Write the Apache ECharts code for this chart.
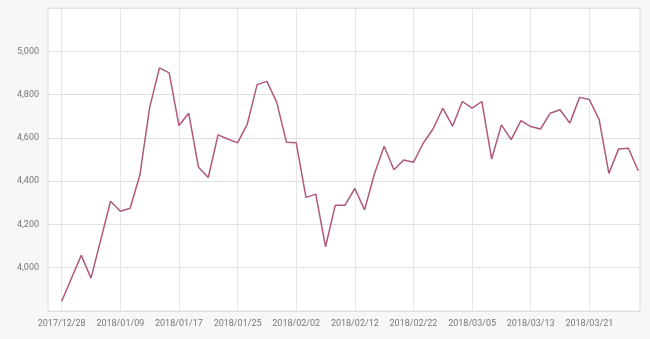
<!DOCTYPE html>
<html>
<head>
<meta charset="utf-8">
<script src="https://cdn.jsdelivr.net/npm/echarts@6/dist/echarts.min.js"></script>
<style>
html,body{margin:0;padding:0;background:#f7f7f7;}
#c{width:650px;height:339px;}
</style>
</head>
<body>
<div id="c"></div>
<script>
const dates = [
 '2017/12/28','2017/12/29','2018/01/02','2018/01/03','2018/01/04','2018/01/08',
 '2018/01/09','2018/01/10','2018/01/11','2018/01/12','2018/01/15','2018/01/16',
 '2018/01/17','2018/01/18','2018/01/19','2018/01/22','2018/01/23','2018/01/24',
 '2018/01/25','2018/01/26','2018/01/29','2018/01/30','2018/01/31','2018/02/01',
 '2018/02/02','2018/02/05','2018/02/06','2018/02/07','2018/02/08','2018/02/09',
 '2018/02/12','2018/02/13','2018/02/14','2018/02/15','2018/02/20','2018/02/21',
 '2018/02/22','2018/02/23','2018/02/26','2018/02/27','2018/02/28','2018/03/01',
 '2018/03/05','2018/03/06','2018/03/07','2018/03/08','2018/03/09','2018/03/12',
 '2018/03/13','2018/03/14','2018/03/15','2018/03/16','2018/03/19','2018/03/20',
 '2018/03/21','2018/03/22','2018/03/23','2018/03/26','2018/03/27','2018/03/28'
];
const values = [
 3845,3951,4057,3952,4130,4307,
 4261,4275,4428,4740,4923,4900,
 4657,4714,4464,4417,4614,4595,
 4577,4665,4846,4861,4765,4580,
 4577,4325,4340,4097,4289,4289,
 4366,4267,4433,4561,4453,4498,
 4487,4575,4641,4737,4654,4768,
 4737,4768,4502,4660,4592,4680,
 4652,4641,4714,4730,4668,4787,
 4777,4685,4436,4549,4552,4448
];
const yMin = 3800, yMax = 5200, yStep = 200;

const chart = echarts.init(document.getElementById('c'), null, {renderer:'canvas'});
const labelStyle = {color:'#777', fontSize:9, fontFamily:'Roboto'};
chart.setOption({
  backgroundColor:'#f7f7f7',
  animation:false,
  grid:[
    {left:48, right:10, top:8, bottom:28, show:true, backgroundColor:'#fff', borderColor:'#dcdcdc', borderWidth:1},
    {left:61.7, right:11.8, top:8, bottom:28}
  ],
  xAxis:[
    {gridIndex:0, type:'category', data:dates, show:false},
    {gridIndex:1, type:'category', data:dates, boundaryGap:false,
     axisLine:{show:false}, axisTick:{show:false},
     axisLabel:Object.assign({interval:5, margin:8}, labelStyle),
     splitLine:{show:true, interval:5, lineStyle:{color:'#e6e6e6', width:1}}}
  ],
  yAxis:[
    {gridIndex:0, type:'value', min:yMin, max:yMax, interval:yStep,
     axisLine:{show:false}, axisTick:{show:false},
     axisLabel:Object.assign({margin:9, showMinLabel:false, showMaxLabel:false,
       formatter:v=>v.toLocaleString('en-US')}, labelStyle),
     splitLine:{show:true, lineStyle:{color:'#e0e0e0', width:1}}},
    {gridIndex:1, type:'value', min:yMin, max:yMax, interval:yStep, show:false, splitLine:{show:false}}
  ],
  series:[{
    type:'line', xAxisIndex:1, yAxisIndex:1, data:values,
    showSymbol:false, symbol:'none',
    lineStyle:{color:'#b0587e', width:1.5}
  }]
});
</script>
</body>
</html>
